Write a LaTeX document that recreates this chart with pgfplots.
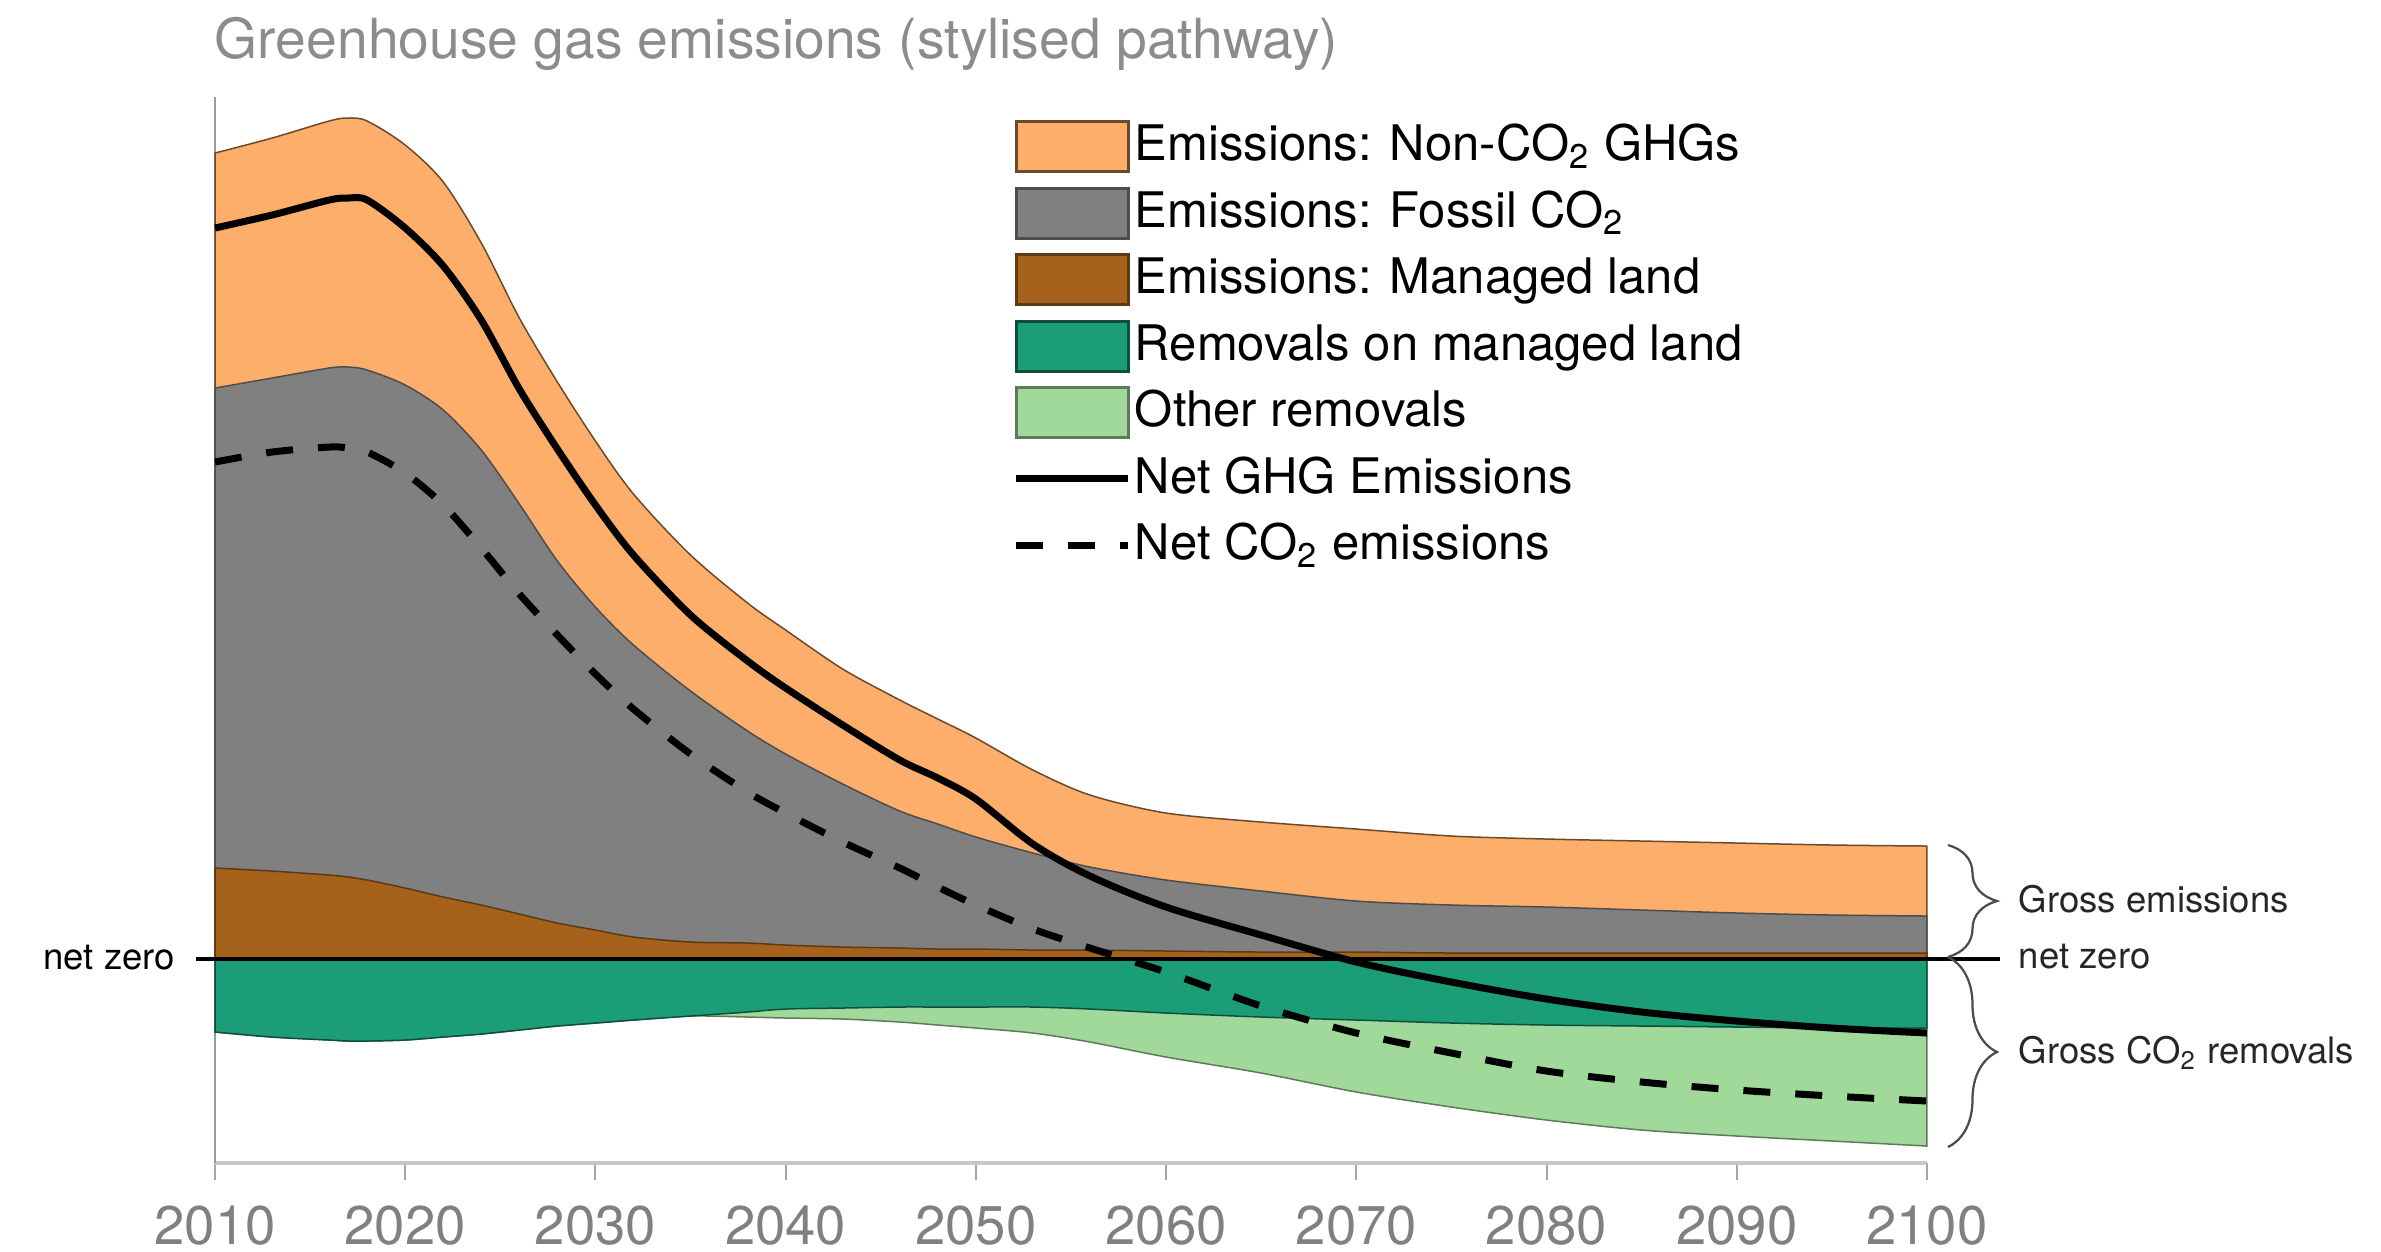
\documentclass[border=0pt]{standalone}
\usepackage{fontspec}
\setmainfont{TeX Gyre Heros}
\usepackage{pgfplots}
\usepackage{pgfplotstable}
\pgfplotsset{compat=1.18}
\usetikzlibrary{decorations.pathreplacing}

\definecolor{nonco2}{HTML}{FDAE6B}
\definecolor{nonco2line}{HTML}{6B4A2A}
\definecolor{fossil}{HTML}{808080}
\definecolor{fossilline}{HTML}{4D4D4D}
\definecolor{land}{HTML}{A6611A}
\definecolor{landline}{HTML}{5C3A14}
\definecolor{removal}{HTML}{1B9E77}
\definecolor{removalline}{HTML}{0E4F3C}
\definecolor{other}{HTML}{A1D99B}
\definecolor{otherline}{HTML}{5E7A5B}

% upper edge of each band, height above net zero (stylised units)
\pgfplotstableread{
year nonco2 fossil land removal other ghg co2
2010 806 571 91 -73 -73 731 497
2013 821 581 88 -78 -78 744 507
2016 838 591 84 -81 -81 759 512
2017 841 592 82 -82 -82 761 511
2018 838 589 79 -82 -82 759 507
2020 814 574 71 -81 -81 731 486
2022 777 549 62 -78 -78 693 454
2024 716 509 54 -75 -75 639 411
2026 641 455 45 -71 -71 570 365
2028 577 398 36 -67 -67 510 324
2030 518 352 29 -64 -64 454 285
2032 465 314 22 -61 -61 404 250
2035 404 268 17 -57 -57 344 205
2038 356 228 16 -53 -58 298 167
2040 329 205 14 -50 -59 271 146
2043 290 175 12 -49 -60 234 117
2046 259 148 11 -48 -63 199 91
2048 240 135 10 -48 -66 181 72
2050 221 122 10 -48 -69 160 54
2053 189 106 9 -48 -74 115 30
2056 164 92 9 -50 -83 83 11
2060 146 79 8 -54 -98 52 -13
2065 137 68 7 -58 -114 24 -47
2070 130 58 7 -61 -133 -3 -74
2075 123 54 6 -64 -148 -23 -94
2080 120 52 6 -66 -161 -40 -112
2085 118 49 6 -67 -171 -53 -123
2090 116 46 6 -68 -177 -62 -131
2095 114 44 6 -69 -182 -69 -137
2100 113 43 6 -69 -187 -74 -142
}\pathway

\pgfplotsset{
  swatch/.style={legend image code/.code={\draw[##1] (0pt,-2.2pt) rectangle (22.4pt,7.8pt);}},
  stroke/.style={legend image code/.code={%
    \path[draw=none, fill=none] (0pt,-2.5pt) rectangle (22.4pt,8.1pt);
    \draw[##1] (0pt,2.9pt) -- (22.4pt,2.9pt);}},
}

\begin{document}
\begin{tikzpicture}
\begin{axis}[
  at={(43pt,-232.6pt)}, anchor=south west,
  scale only axis, width=342.4pt, height=213.2pt,
  xmin=2010, xmax=2100, ymin=-204, ymax=862,
  axis x line=bottom, axis y line=left,
  x axis line style={-, draw=black!22, line width=0.8pt},
  y axis line style={-, draw=black!40, line width=0.5pt},
  xtick={2010,2020,...,2100}, ytick=\empty,
  tick align=outside, major tick length=3.4pt,
  xtick style={draw=black!35, line width=0.4pt},
  xticklabel style={font=\fontsize{10.9}{13}\selectfont, text=black!50,
    inner sep=0pt, yshift=-5.0pt},
  /pgf/number format/1000 sep={},
  /pgf/number format/assume math mode=true,
  clip=false,
  legend style={at={(0.4655,0.979)}, anchor=north west, draw=none, fill=none,
    inner sep=0pt, row sep=2.6pt, column sep=0.6pt,
    font=\fontsize{9.8}{12}\selectfont,
    nodes={inner sep=0pt, text height=7.4pt, text depth=2.6pt},
    cells={anchor=base west}},
]
% emissions, painted from the outer edge inwards
\addplot[fill=nonco2, draw=nonco2line, line width=0.3pt, smooth, forget plot]
  table[x=year, y=nonco2]{\pathway} \closedcycle;
\addplot[fill=fossil, draw=fossilline, line width=0.3pt, smooth, forget plot]
  table[x=year, y=fossil]{\pathway} \closedcycle;
\addplot[fill=land, draw=landline, line width=0.3pt, smooth, forget plot]
  table[x=year, y=land]{\pathway} \closedcycle;
% removals
\addplot[fill=other, draw=otherline, line width=0.3pt, smooth, forget plot]
  table[x=year, y=other]{\pathway} \closedcycle;
\addplot[fill=removal, draw=removalline, line width=0.3pt, smooth, forget plot]
  table[x=year, y=removal]{\pathway} \closedcycle;
% net zero and net lines
\addplot[black, line width=0.7pt, forget plot] coordinates {(2010,0) (2100,0)};
\addplot[black, line width=1.4pt, smooth, forget plot]
  table[x=year, y=ghg]{\pathway};
\addplot[black, line width=1.4pt, dash pattern=on 5.4pt off 5pt, smooth, forget plot]
  table[x=year, y=co2]{\pathway};

\addlegendimage{swatch, fill=nonco2, draw=nonco2line, line width=0.6pt}
\addlegendentry{Emissions: Non-CO\textsubscript{2} GHGs}
\addlegendimage{swatch, fill=fossil, draw=fossilline, line width=0.6pt}
\addlegendentry{Emissions: Fossil CO\textsubscript{2}}
\addlegendimage{swatch, fill=land, draw=landline, line width=0.6pt}
\addlegendentry{Emissions: Managed land}
\addlegendimage{swatch, fill=removal, draw=removalline, line width=0.6pt}
\addlegendentry{Removals on managed land}
\addlegendimage{swatch, fill=other, draw=otherline, line width=0.6pt}
\addlegendentry{Other removals}
\addlegendimage{stroke, black, line width=1.4pt}
\addlegendentry{Net GHG Emissions}
\addlegendimage{stroke, black, line width=1.4pt, dash pattern=on 5.4pt off 5pt}
\addlegendentry{Net CO\textsubscript{2} emissions}
\end{axis}

% annotations in pixel units of the 2381x1251 picture (y downwards)
\begin{scope}[x=0.2pt, y=-0.2pt]
  \node[anchor=base west, inner sep=0pt, text=black!45,
        font=\fontsize{11.05}{13}\selectfont] at (214,58)
        {Greenhouse gas emissions (stylised pathway)};
  \draw[black, line width=0.7pt] (196,959) -- (215,959);
  \draw[black, line width=0.7pt] (1927,959) -- (2000,959);
  \node[anchor=base east, inner sep=0pt, font=\fontsize{7.3}{9}\selectfont]
        at (176,969) {net zero};
  \draw[decorate, decoration={brace, amplitude=9.8pt, aspect=0.5},
        draw=black!70, line width=0.45pt] (1948,845) -- (1948,957);
  \draw[decorate, decoration={brace, amplitude=9.8pt, aspect=0.5},
        draw=black!70, line width=0.45pt] (1948,957) -- (1948,1147);
  \begin{scope}[every node/.style={anchor=base west, inner sep=0pt,
        font=\fontsize{7.3}{9}\selectfont, text=black!85}]
    \node at (2018,912) {Gross emissions};
    \node at (2018,968) {net zero};
    \node at (2018,1063) {Gross CO\textsubscript{2} removals};
  \end{scope}
\end{scope}
\pgfresetboundingbox
\path[use as bounding box] (0pt,0pt) rectangle (476.2pt,-250.2pt);
\end{tikzpicture}
\end{document}
